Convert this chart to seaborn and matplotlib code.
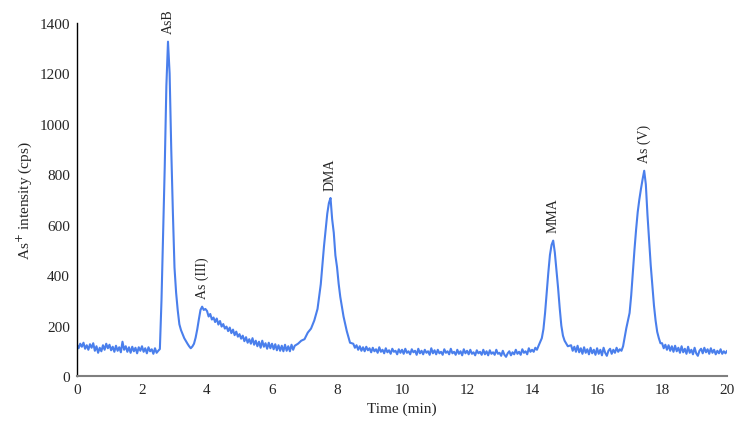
import numpy as np
import pandas as pd
import matplotlib
matplotlib.use("Agg")
import matplotlib.pyplot as plt
import seaborn as sns

# Cromatograma leído a ojo del gráfico original (tiempo en min, intensidad en cps)

# Tramos de línea base, muestreados cada 0.05 min
def rejilla(inicio, fin):
    return list(np.round(np.arange(inicio, fin + 1e-9, 0.05), 2))

i_base1 = [124, 110, 128, 116, 132, 108, 122, 104, 126, 112,
           130, 100, 118, 92, 112, 98, 122, 104, 128, 110,
           124, 102, 116, 96, 120, 100, 114, 94, 136, 104,
           118, 96, 114, 92, 116, 98, 112, 90, 114, 100,
           118, 96, 110, 90, 114, 98, 106, 88, 110, 92,
           100]
t_base1 = rejilla(0.0, 2.5)

t_asb = [2.55, 2.6, 2.65, 2.7, 2.75, 2.8, 2.85, 2.9, 2.95, 3.0, 3.05, 3.1, 3.15,
         3.2, 3.3, 3.4, 3.45, 3.5, 3.55, 3.6, 3.65, 3.7, 3.75, 3.8, 3.85, 3.9,
         3.95]
i_asb = [107, 300, 560, 830, 1150, 1326, 1200, 900, 650, 430, 330, 260, 205,
         182, 150, 128, 118, 110, 117, 128, 152, 185, 225, 262, 275, 262, 266]

i_tail = [258, 236, 246, 224, 232, 214, 228, 204, 218, 196,
          206, 188, 196, 178, 192, 170, 184, 162, 176, 156,
          166, 148, 160, 138, 154, 132, 146, 128, 150, 124,
          140, 118, 136, 112, 140, 116, 130, 108, 132, 110,
          128, 106, 126, 102, 122, 100, 120, 98, 124, 100,
          118, 98, 124, 104, 120]
t_tail = rejilla(4.0, 6.7)

t_dma = [6.8, 6.9, 7.0, 7.1, 7.2, 7.3, 7.4, 7.5, 7.6, 7.7, 7.75, 7.8, 7.85,
         7.9, 7.95, 8.0, 8.05, 8.1, 8.2, 8.3, 8.4]
i_dma = [128, 140, 146, 172, 188, 220, 266, 364, 516, 644, 686, 706, 622,
         568, 478, 432, 366, 314, 236, 178, 132]

i_base2 = [128, 112, 122, 104, 118, 100, 114, 98, 116, 102,
           110, 94, 112, 98, 106, 92, 114, 96, 104, 90,
           110, 94, 102, 88, 108, 96, 100, 86, 106, 92,
           104, 88, 108, 92, 98, 86, 106, 94, 100, 84,
           108, 90, 100, 86, 104, 92, 98, 84, 110, 90,
           102, 86, 104, 90, 96, 84, 106, 92, 98, 86,
           108, 90, 96, 84, 104, 88, 98, 82, 106, 90,
           100, 86, 104, 88, 94, 82, 102, 90, 96, 84,
           104, 86, 98, 82, 102, 88, 94, 84, 104, 88,
           92, 80, 100, 84, 76, 90, 98, 82, 94, 86,
           104, 88, 96, 84, 106, 92, 98, 86, 110, 96,
           104, 96, 112, 104, 120]
t_base2 = rejilla(8.5, 14.2)

t_mma = [14.3, 14.35, 14.4, 14.45, 14.5, 14.55, 14.6, 14.65, 14.7, 14.75,
         14.8, 14.85, 14.9, 14.95, 15.0, 15.1]
i_mma = [150, 186, 250, 330, 410, 480, 520, 537, 490, 420,
         350, 270, 200, 160, 140, 118]

i_base3 = [122, 100, 116, 96, 120, 94, 110, 88, 114, 92, 106, 86, 112, 90,
           104, 84, 110, 88, 104, 82, 112, 92, 80, 100, 108, 88, 104, 92,
           112, 96, 106, 100, 118]
t_base3 = rejilla(15.2, 16.8)

t_asv = [16.9, 17.0, 17.05, 17.1, 17.15, 17.2, 17.25, 17.3, 17.35, 17.4, 17.45,
         17.5, 17.55, 17.6, 17.65, 17.7, 17.75, 17.8, 17.85, 17.9, 17.95]
i_asv = [190, 250, 320, 410, 500, 580, 650, 700, 742, 780, 814,
         760, 640, 540, 440, 360, 280, 220, 175, 150, 130]

i_base4 = [130, 110, 124, 104, 122, 100, 118, 96, 120, 98, 112, 92, 118,
           94, 108, 88, 116, 92, 104, 86, 112, 90, 80, 100, 108, 90, 112,
           94, 106, 88, 110, 92, 104, 86, 100, 90, 106, 88, 98, 90, 100]
t_base4 = rejilla(18.0, 20.0)

# Picos etiquetados
picos = ["AsB", "As (III)", "DMA", "MMA", "As (V)"]
t_picos = [2.8, 3.85, 7.8, 14.65, 17.45]
i_picos = [1326, 275, 706, 537, 814]

segmentos = [(t_base1, i_base1), (t_asb, i_asb), (t_tail, i_tail),
             (t_dma, i_dma), (t_base2, i_base2), (t_mma, i_mma),
             (t_base3, i_base3), (t_asv, i_asv), (t_base4, i_base4)]
tiempo, intensidad = [], []
for t, v in segmentos:
    assert len(t) == len(v), (t[0], len(t), len(v))
    tiempo += list(t)
    intensidad += list(v)

df = pd.DataFrame({"tiempo": tiempo, "intensidad": intensidad})

sns.set_style("white")
plt.rcParams["font.family"] = ["Liberation Serif", "DejaVu Serif"]

fig = plt.figure(figsize=(7.43, 4.31), dpi=100)
ax = fig.add_axes([0.1036, 0.1253, 0.875, 0.819])

sns.lineplot(data=df, x="tiempo", y="intensidad", ax=ax, color="#4a7fec",
             linewidth=1.5, sort=False, estimator=None)

for nombre, tp, ip in zip(picos, t_picos, i_picos):
    ax.annotate(nombre, xy=(tp, ip), xytext=(0, 6), textcoords="offset points",
                rotation=90, ha="center", va="bottom", fontsize=10)

ax.set_xlim(0, 20)
ax.set_ylim(0, 1400)
ax.set_xticks(range(0, 21, 2))
ax.set_yticks(range(0, 1401, 200))
ax.tick_params(axis="both", length=0, labelsize=11, pad=5)
ax.set_xlabel("Time (min)", fontsize=11)
ax.set_ylabel("As$^{+}$ intensity (cps)", fontsize=11)

for lado in ["top", "right"]:
    ax.spines[lado].set_visible(False)
ax.spines["left"].set_color("black")
ax.spines["left"].set_linewidth(1.0)
ax.spines["bottom"].set_color("#7f7f7f")
ax.spines["bottom"].set_linewidth(1.5)

fig.savefig("out.png", dpi=100)
